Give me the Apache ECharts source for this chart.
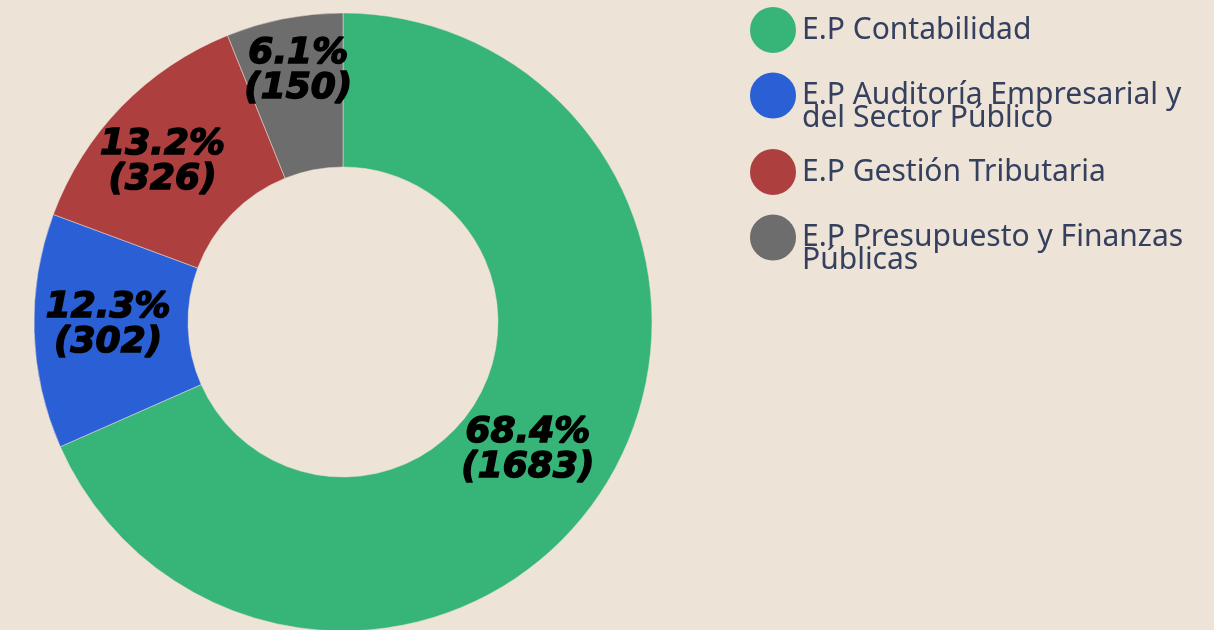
<!DOCTYPE html>
<html>
<head>
<meta charset="utf-8">
<script src="https://cdn.jsdelivr.net/npm/echarts@6/dist/echarts.min.js"></script>
<style>
html,body{margin:0;padding:0;background:#ede3d7;}
#c{width:1214px;height:630px;}
</style>
</head>
<body>
<div id="c"></div>
<script>
const categories = ['E.P Contabilidad', 'E.P Auditoría Empresarial y\ndel Sector Público', 'E.P Gestión Tributaria', 'E.P Presupuesto y Finanzas\nPúblicas'];
const values = [1683, 302, 326, 150];
const colors = ['#37b477', '#2b5fd5', '#ad3f3f', '#6d6d6d'];

const chart = echarts.init(document.getElementById('c'));
const legendTops = [5, 57.5, 147, 199.5];
const legends = categories.map((name, i) => {
  const multi = name.indexOf('\n') >= 0;
  return {
    data: [name],
    orient: 'vertical',
    left: 748,
    top: legendTops[i],
    padding: 0,
    icon: 'circle',
    itemWidth: 48,
    itemHeight: 48,
    selectedMode: false,
    formatter: n => (multi ? '\n' : '') + n,
    textStyle: {
      fontFamily: 'Noto Sans',
      fontSize: 30,
      color: '#35405f',
      lineHeight: 23
    }
  };
});

const labelOffsets = [[-12, 0], [0, -4], [-12, 4], [0, -20]];

chart.setOption({
  backgroundColor: '#ede3d7',
  animation: false,
  color: colors,
  legend: legends,
  series: [{
    type: 'pie',
    center: [343, 322],
    radius: [155, 309],
    startAngle: 90,
    clockwise: true,
    percentPrecision: 1,
    avoidLabelOverlap: false,
    itemStyle: { borderColor: '#ede3d7', borderWidth: 0.5 },
    label: {
      position: 'inside',
      formatter: '{d}%\n({c})',
      fontFamily: 'DejaVu Sans',
      fontStyle: 'italic',
      fontWeight: 'bold',
      fontSize: 36,
      lineHeight: 35,
      color: '#000',
      textBorderColor: '#000',
      textBorderWidth: 1.6
    },
    labelLine: { show: false },
    emphasis: { disabled: true },
    data: categories.map((n, i) => ({ name: n, value: values[i], label: { offset: labelOffsets[i] } }))
  }]
});
</script>
</body>
</html>
